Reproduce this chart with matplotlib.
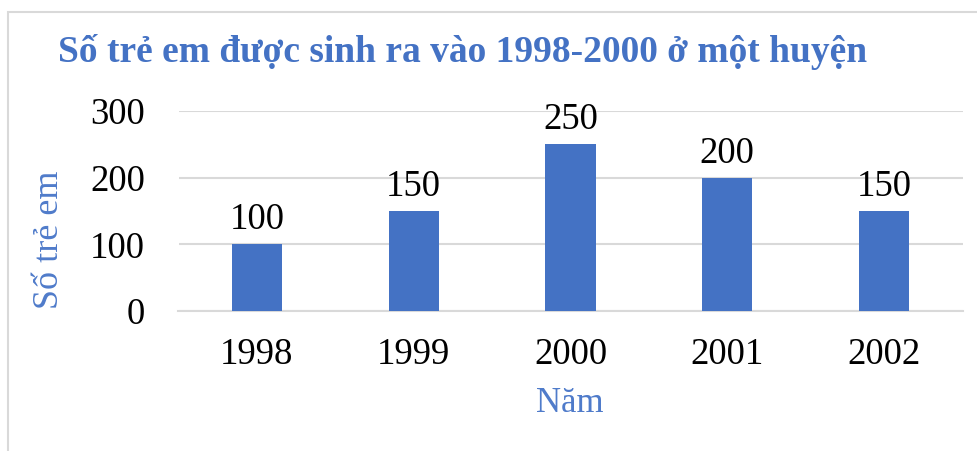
import matplotlib.pyplot as plt
from matplotlib.patches import Rectangle

years = ["1998", "1999", "2000", "2001", "2002"]
births = [100, 150, 250, 200, 150]
yticks = [0, 100, 200, 300]

title = "Số trẻ em được sinh ra vào 1998-2000 ở một huyện"
xlab = "Năm"
ylab = "Số trẻ em"

blue = "#4472C4"
label_blue = "#4F7BCA"

plt.rcParams['font.family'] = ['Liberation Serif', 'DejaVu Serif']

fig = plt.figure(figsize=(9.77, 4.51), dpi=100)
W, H = 977, 451

# chart frame (light grey border)
fig.patches.append(Rectangle((8 / W, -0.1), 1.1, 1 - 12 / H + 0.1, transform=fig.transFigure,
                             fill=False, edgecolor="#D9D9D9", linewidth=1.5))

# plot area in pixels: left 178.5, right 962.5, top (300) 111, bottom (0) 311
ax = fig.add_axes([178.5 / W, 1 - 311 / H, (962.5 - 178.5) / W, (311 - 111) / H])
x = range(len(years))
bars = ax.bar(x, births, width=0.32, color=blue, zorder=3)
ax.set_xlim(-0.5, len(years) - 0.5)
ax.set_ylim(0, 300)
ax.set_yticks(yticks)
ax.set_xticks(list(x))
ax.set_xticklabels(years)
ax.grid(axis="y", color="#D9D9D9", linewidth=1.5, zorder=0)
ax.set_axisbelow(True)
for s in ["top", "right", "left"]:
    ax.spines[s].set_visible(False)
ax.spines["bottom"].set_color("#D9D9D9")
ax.spines["bottom"].set_linewidth(1.5)
ax.tick_params(axis="both", length=0, labelsize=26.5, colors="black")
ax.tick_params(axis="x", pad=19)
ax.tick_params(axis="y", pad=24)

for b, v in zip(bars, births):
    ax.annotate(str(v), (b.get_x() + b.get_width() / 2, v), xytext=(0, 5),
                textcoords="offset points", ha="center", va="bottom", fontsize=26.5)

fig.text(463 / W, 1 - 52 / H, title, ha="center", va="center", fontsize=27,
         fontweight="bold", color=blue)
fig.text(570 / W, 1 - 404 / H, xlab, ha="center", va="center", fontsize=25, color=label_blue)
fig.text(50 / W, 1 - 240 / H, ylab, ha="center", va="center", fontsize=26, color=label_blue,
         rotation=90)

fig.savefig("out.png", dpi=100)
